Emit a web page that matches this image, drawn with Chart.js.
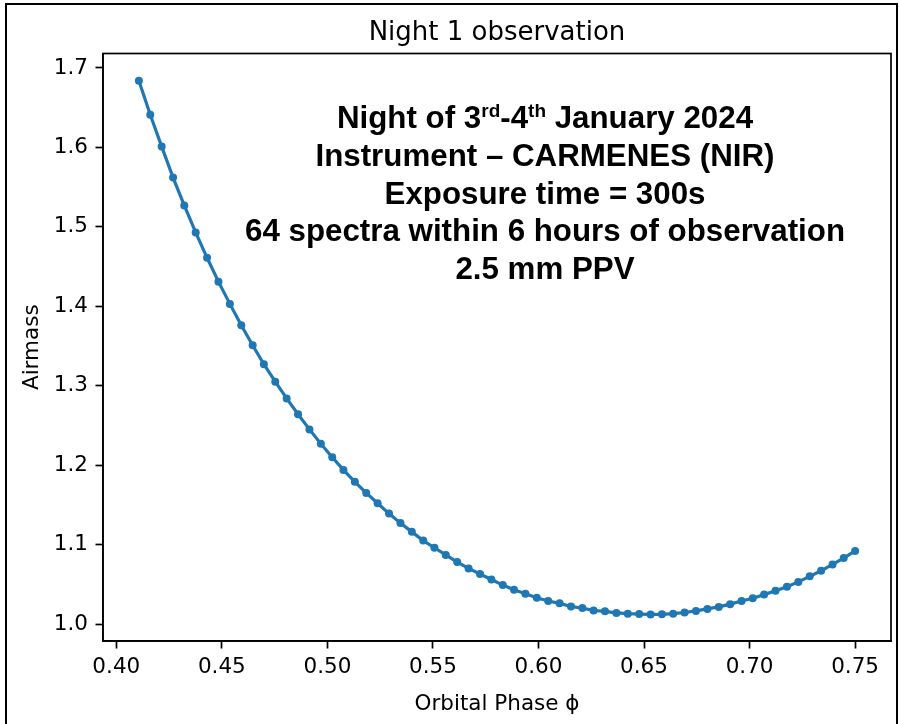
<!DOCTYPE html>
<html>
<head>
<meta charset="utf-8">
<script src="https://cdn.jsdelivr.net/npm/chart.js@4/dist/chart.umd.min.js"></script>
<style>
  html, body { margin: 0; padding: 0; background: #fff; }
  #wrap { width: 899px; height: 724px; position: relative; }
</style>
</head>
<body>
<div id="wrap"><canvas id="c" width="899" height="724"></canvas></div>
<script>
// ---- data ----
const orbitalPhase = [
  0.4107, 0.4161, 0.4215, 0.4269, 0.4322, 0.4376, 0.4430, 0.4484,
  0.4538, 0.4592, 0.4646, 0.4699, 0.4753, 0.4807, 0.4861, 0.4915,
  0.4969, 0.5023, 0.5076, 0.5130, 0.5184, 0.5238, 0.5292, 0.5346,
  0.5400, 0.5454, 0.5507, 0.5561, 0.5615, 0.5669, 0.5723, 0.5777,
  0.5831, 0.5884, 0.5938, 0.5992, 0.6046, 0.6100, 0.6154, 0.6208,
  0.6261, 0.6315, 0.6369, 0.6423, 0.6477, 0.6531, 0.6585, 0.6638,
  0.6692, 0.6746, 0.6800, 0.6854, 0.6908, 0.6962, 0.7015, 0.7069,
  0.7123, 0.7177, 0.7231, 0.7285, 0.7339, 0.7393, 0.7446, 0.7500
];
const airmass = [
  1.684, 1.641, 1.601, 1.562, 1.527, 1.493, 1.461, 1.431,
  1.403, 1.376, 1.351, 1.327, 1.305, 1.284, 1.264, 1.245,
  1.227, 1.210, 1.194, 1.179, 1.165, 1.152, 1.139, 1.127,
  1.116, 1.105, 1.096, 1.087, 1.078, 1.070, 1.063, 1.056,
  1.049, 1.043, 1.038, 1.033, 1.029, 1.026, 1.022, 1.020,
  1.017, 1.016, 1.014, 1.013, 1.0125, 1.012, 1.0122, 1.013,
  1.0145, 1.0165, 1.019, 1.0215, 1.025, 1.029, 1.0325, 1.037,
  1.042, 1.047, 1.053, 1.060, 1.067, 1.075, 1.083, 1.092
];
const xTickValues = [0.40, 0.45, 0.50, 0.55, 0.60, 0.65, 0.70, 0.75];
const yTickValues = [1.0, 1.1, 1.2, 1.3, 1.4, 1.5, 1.6, 1.7];
const chartTitle = 'Night 1 observation';
const xTitle = 'Orbital Phase \u03D5';
const yTitle = 'Airmass';
// annotation lines: segments of [text, isSuperscript]
const noteLines = [
  [['Night of 3', false], ['rd', true], ['-4', false], ['th', true], [' January 2024', false]],
  [['Instrument \u2013 CARMENES (NIR)', false]],
  [['Exposure time = 300s', false]],
  [['64 spectra within 6 hours of observation', false]],
  [['2.5 mm PPV', false]]
];

const points = orbitalPhase.map((x, i) => ({ x: x, y: airmass[i] }));
const BLUE = '#1f77b4';
const FONT = "'DejaVu Sans', sans-serif";

const framePlugin = {
  id: 'frame',
  beforeDraw(chart) {
    const ctx = chart.ctx;
    ctx.save();
    ctx.fillStyle = '#fff';
    ctx.fillRect(0, 0, chart.width, chart.height);
    ctx.strokeStyle = '#000';
    ctx.lineWidth = 2;
    ctx.beginPath();
    ctx.moveTo(6, 724);
    ctx.lineTo(6, 4);
    ctx.lineTo(897, 4);
    ctx.lineTo(897, 724);
    ctx.stroke();
    ctx.restore();
  },
  afterDatasetsDraw(chart) {
    const { ctx, chartArea: a } = chart;
    ctx.save();
    ctx.strokeStyle = '#000';
    ctx.lineWidth = 1.7;
    ctx.strokeRect(a.left, a.top, a.right - a.left, a.bottom - a.top);
    // annotation text
    const cx = 545;
    const baseY = [128, 166, 203.5, 241, 278.5];
    const mainFont = "bold 31.3px 'Liberation Sans', Arial, sans-serif";
    const supFont = "bold 19px 'Liberation Sans', Arial, sans-serif";
    ctx.fillStyle = '#000';
    ctx.textBaseline = 'alphabetic';
    ctx.textAlign = 'left';
    noteLines.forEach((segs, li) => {
      let w = 0;
      segs.forEach(([t, sup]) => { ctx.font = sup ? supFont : mainFont; w += ctx.measureText(t).width; });
      let x = cx - w / 2;
      segs.forEach(([t, sup]) => {
        ctx.font = sup ? supFont : mainFont;
        ctx.fillText(t, x, baseY[li] - (sup ? 11 : 0));
        x += ctx.measureText(t).width;
      });
    });
    ctx.restore();
  }
};

new Chart(document.getElementById('c'), {
  type: 'line',
  data: {
    datasets: [{
      data: points,
      borderColor: BLUE,
      backgroundColor: BLUE,
      borderWidth: 3.2,
      pointRadius: 4,
      pointBorderWidth: 0,
      pointBackgroundColor: BLUE,
      tension: 0,
      fill: false
    }]
  },
  options: {
    responsive: false,
    animation: false,
    events: [],
    layout: { padding: { left: 0, right: 8, top: 0, bottom: 0 } },
    plugins: {
      legend: { display: false },
      tooltip: { enabled: false },
      title: {
        display: true,
        fullSize: false,
        text: chartTitle,
        color: '#000',
        font: { family: FONT, size: 26, weight: 'normal', lineHeight: 1.2 },
        padding: { top: 18, bottom: 4.3 }
      }
    },
    scales: {
      x: {
        type: 'linear',
        min: 0.3937,
        max: 0.7670,
        afterBuildTicks(s) { s.ticks = xTickValues.map(v => ({ value: v })); },
        afterFit(s) { s.height = 83; },
        grid: { display: true, drawOnChartArea: false, drawTicks: true, tickLength: 7.5, tickWidth: 1.7, tickColor: '#000' },
        border: { display: true, color: '#000', width: 1.7 },
        ticks: { color: '#000', font: { family: FONT, size: 21.5 }, padding: 6, maxRotation: 0, autoSkip: false,
                 callback: v => Number(v).toFixed(2) },
        title: { display: true, text: xTitle, color: '#000', font: { family: FONT, size: 21.5, lineHeight: 1.2 }, padding: { top: 0, bottom: 7 } }
      },
      y: {
        type: 'linear',
        min: 0.9786,
        max: 1.7182,
        afterBuildTicks(s) { s.ticks = yTickValues.map(v => ({ value: v })); },
        afterFit(s) { s.width = 103; },
        grid: { display: true, drawOnChartArea: false, drawTicks: true, tickLength: 7.5, tickWidth: 1.7, tickColor: '#000' },
        border: { display: true, color: '#000', width: 1.7 },
        ticks: { color: '#000', font: { family: FONT, size: 21.5 }, padding: 7.5, autoSkip: false,
                 callback: v => Number(v).toFixed(1) },
        title: { display: true, text: yTitle, color: '#000', font: { family: FONT, size: 21.5, lineHeight: 1.2 }, padding: { top: 20, bottom: 0 } }
      }
    }
  },
  plugins: [framePlugin]
});
</script>
</body>
</html>
